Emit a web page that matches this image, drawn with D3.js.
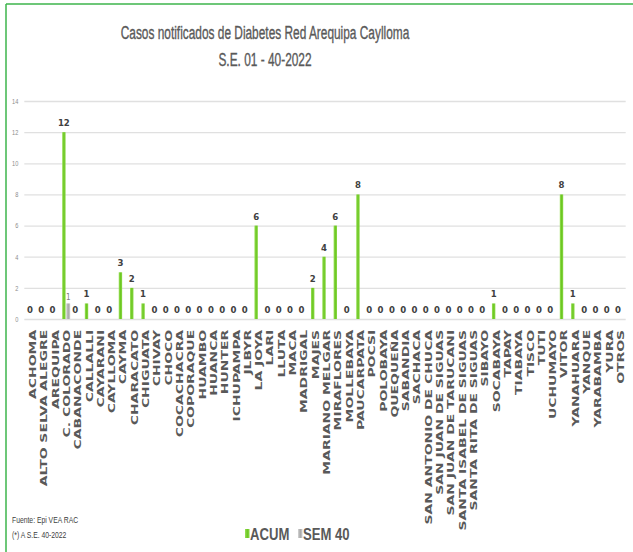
<!DOCTYPE html>
<html>
<head>
<meta charset="utf-8">
<script src="https://cdn.jsdelivr.net/npm/d3@7"></script>
<style>
  body { margin: 0; background: #fff; }
  svg { display: block; }
</style>
</head>
<body>
<svg id="chart"></svg>
<script>
const categories = ['ACHOMA', 'ALTO SELVA ALEGRE', 'AREQUIPA', 'C. COLORADO', 'CABANACONDE',
  'CALLALLI', 'CAYARANI', 'CAYLLOMA', 'CAYMA', 'CHARACATO', 'CHIGUATA', 'CHIVAY', 'CHOCO',
  'COCACHACRA', 'COPORAQUE', 'HUAMBO', 'HUANCA', 'HUNTER', 'ICHUPAMPA', 'JLBYR', 'LA JOYA',
  'LARI', 'LLUTA', 'MACA', 'MADRIGAL', 'MAJES', 'MARIANO MELGAR', 'MIRAFLORES', 'MOLLEBAYA',
  'PAUCARPATA', 'POCSI', 'POLOBAYA', 'QUEQUEÑA', 'SABANDIA', 'SACHACA', 'SAN ANTONIO DE CHUCA',
  'SAN JUAN DE SIGUAS', 'SAN JUAN DE TARUCANI', 'SANTA ISABEL DE SIGUAS', 'SANTA RITA DE SIGUAS',
  'SIBAYO', 'SOCABAYA', 'TAPAY', 'TIABAYA', 'TISCO', 'TUTI', 'UCHUMAYO', 'VITOR', 'YANAHUARA',
  'YANQUE', 'YARABAMBA', 'YURA', 'OTROS'];

const acum = [0, 0, 0, 12, 0, 1, 0, 0, 3, 2, 1, 0, 0, 0, 0, 0, 0, 0, 0, 0, 6,
  0, 0, 0, 0, 2, 4, 6, 0, 8, 0, 0, 0, 0, 0, 0, 0, 0, 0, 0, 0, 1, 0, 0, 0, 0, 0, 8, 1,
  0, 0, 0, 0];

const sem40 = [0, 0, 0, 1, 0, 0, 0, 0, 0, 0, 0, 0, 0, 0, 0, 0, 0, 0, 0, 0, 0,
  0, 0, 0, 0, 0, 0, 0, 0, 0, 0, 0, 0, 0, 0, 0, 0, 0, 0, 0, 0, 0, 0, 0, 0, 0, 0, 0, 0,
  0, 0, 0, 0];

const yTicks = [0, 2, 4, 6, 8, 10, 12, 14];

const width = 633, height = 552;
const svg = d3.select('#chart')
  .attr('width', width)
  .attr('height', height);

const narrow = '"Liberation Sans", Arial, sans-serif';

// border (only top and left visible)
svg.append('line')
  .attr('x1', 6).attr('x2', width).attr('y1', 4).attr('y2', 4)
  .attr('stroke', '#3cb44b').attr('stroke-width', 1.5);
svg.append('line')
  .attr('x1', 6).attr('x2', 6).attr('y1', 4).attr('y2', height)
  .attr('stroke', '#3cb44b').attr('stroke-width', 1.5);

// title (squeezed horizontally like the source image)
const title = svg.append('g')
  .attr('transform', 'translate(265, 0) scale(0.66, 1)')
  .append('text')
    .attr('text-anchor', 'middle')
    .attr('fill', '#595959')
    .attr('stroke', '#595959')
    .attr('stroke-width', 0.35)
    .style('font-family', narrow)
    .style('font-size', '18px');
title.append('tspan').attr('x', 0).attr('y', 39)
  .text('Casos notificados de Diabetes  Red Arequipa Caylloma');
title.append('tspan').attr('x', 0).attr('y', 66)
  .text('S.E. 01 - 40-2022');

let margin = { left: 24.3, right: 633 - 623.7, top: 101, bottom: 552 - 319 };
let plotW = width - margin.left - margin.right;
let plotH = height - margin.top - margin.bottom;

let chart = svg.append('g')
  .attr('transform', `translate(${margin.left}, ${margin.top})`);

let x = d3.scaleBand()
  .domain(categories)
  .range([0, plotW])
  .paddingInner(0)
  .paddingOuter(0);

let y = d3.scaleLinear()
  .domain([0, 14])
  .range([plotH, 0]);

// gridlines + y axis
let yAxis = d3.axisLeft(y)
  .tickValues(yTicks)
  .tickSize(-(plotW + 2))
  .tickPadding(8);

let yAxisGroup = chart.append('g')
  .attr('class', 'axis axis-y')
  .call(yAxis);

yAxisGroup.select('.domain').remove();
yAxisGroup.selectAll('line')
  .attr('stroke', '#e0e0e0')
  .attr('stroke-width', 1.3);
yAxisGroup.selectAll('text')
  .attr('fill', '#8c8c8c')
  .attr('transform', 'scale(0.75, 1)')
  .style('font-family', narrow)
  .style('font-size', '7.5px');

// x axis labels (stretched along their length like the source)
let xAxisGroup = chart.append('g')
  .attr('class', 'axis axis-x')
  .attr('transform', `translate(0, ${plotH})`)
  .call(d3.axisBottom(x).tickSize(0).tickPadding(0));

xAxisGroup.select('.domain').remove();
xAxisGroup.selectAll('text')
  .attr('transform', 'rotate(-90) scale(1.55, 1)')
  .attr('x', -7)
  .attr('y', 0)
  .attr('dy', 6)
  .attr('text-anchor', 'end')
  .attr('fill', '#595959')
  .style('font-family', '"DejaVu Sans", Verdana, sans-serif')
  .style('font-weight', 'bold')
  .style('font-size', '9px');

// bars
let barWidth = 3.4;
let rows = categories.map((c, i) => ({ cat: c, acum: acum[i], sem: sem40[i] }));

let defs = svg.append('defs');
let gGreen = defs.append('linearGradient').attr('id', 'gGreen');
gGreen.append('stop').attr('offset', '0%').attr('stop-color', '#9be05a');
gGreen.append('stop').attr('offset', '50%').attr('stop-color', '#6cc722');
gGreen.append('stop').attr('offset', '100%').attr('stop-color', '#8ad846');
let gGray = defs.append('linearGradient').attr('id', 'gGray');
gGray.append('stop').attr('offset', '0%').attr('stop-color', '#d6d6d6');
gGray.append('stop').attr('offset', '50%').attr('stop-color', '#a6a6a6');
gGray.append('stop').attr('offset', '100%').attr('stop-color', '#cfcfcf');

function center(d) {
  return x(d.cat) + x.bandwidth() / 2;
}

chart.append('g')
  .attr('class', 'bar-acum')
  .selectAll('rect')
  .data(rows)
  .enter().append('rect')
    .attr('fill', 'url(#gGreen)')
    .attr('x', (d) => center(d) - barWidth / 2)
    .attr('width', barWidth)
    .attr('y', (d) => y(d.acum))
    .attr('height', (d) => plotH - y(d.acum));

chart.append('g')
  .attr('class', 'bar-sem')
  .selectAll('rect')
  .data(rows)
  .enter().append('rect')
    .attr('fill', 'url(#gGray)')
    .attr('x', (d) => center(d) + barWidth / 2 + 0.6)
    .attr('width', barWidth + 0.6)
    .attr('y', (d) => y(d.sem))
    .attr('height', (d) => plotH - y(d.sem));

// value labels
chart.append('g')
  .attr('class', 'labels-acum')
  .selectAll('text')
  .data(rows)
  .enter().append('text')
    .attr('x', center)
    .attr('y', (d) => y(d.acum) - 6)
    .attr('text-anchor', 'middle')
    .attr('fill', '#404040')
    .style('font-family', '"DejaVu Sans Condensed", "DejaVu Sans", sans-serif')
    .style('font-weight', 'bold')
    .style('font-size', '9.5px')
    .text((d) => d.acum);

chart.append('g')
  .attr('class', 'labels-sem')
  .selectAll('text')
  .data(rows.filter((d) => d.sem > 0))
  .enter().append('text')
    .attr('x', (d) => center(d) + barWidth + 1)
    .attr('y', (d) => y(d.sem) - 3)
    .attr('text-anchor', 'middle')
    .attr('fill', '#7f7f7f')
    .style('font-family', '"DejaVu Sans Condensed", "DejaVu Sans", sans-serif')
    .style('font-size', '8px')
    .text((d) => d.sem);

// footnote
let note = svg.append('g')
  .attr('transform', 'translate(12, 0) scale(0.8, 1)')
  .append('text')
    .attr('fill', '#404040')
    .style('font-family', narrow)
    .style('font-size', '8.5px');
note.append('tspan').attr('x', 0).attr('y', 523).text('Fuente: Epi VEA RAC');
note.append('tspan').attr('x', 0).attr('y', 538).text('(*) A S.E. 40-2022');

// legend
let legendItems = [
  { name: 'ACUM', fill: 'url(#gGreen)', x: 245 },
  { name: 'SEM 40', fill: 'url(#gGray)', x: 298 }
];

let li = svg.append('g')
  .attr('class', 'legend')
  .selectAll('g')
  .data(legendItems)
  .enter().append('g')
    .attr('transform', (d) => `translate(${d.x}, 540)`);

li.append('rect')
  .attr('x', 0).attr('y', -11)
  .attr('width', 4.5).attr('height', 9)
  .attr('fill', (d) => d.fill);

li.append('g')
  .attr('transform', 'translate(5, 0) scale(0.82, 1)')
  .append('text')
    .attr('x', 0)
    .attr('y', 0)
    .attr('fill', '#595959')
    .style('font-family', narrow)
    .style('font-weight', 'bold')
    .style('font-size', '16px')
    .text((d) => d.name);
</script>
</body>
</html>
